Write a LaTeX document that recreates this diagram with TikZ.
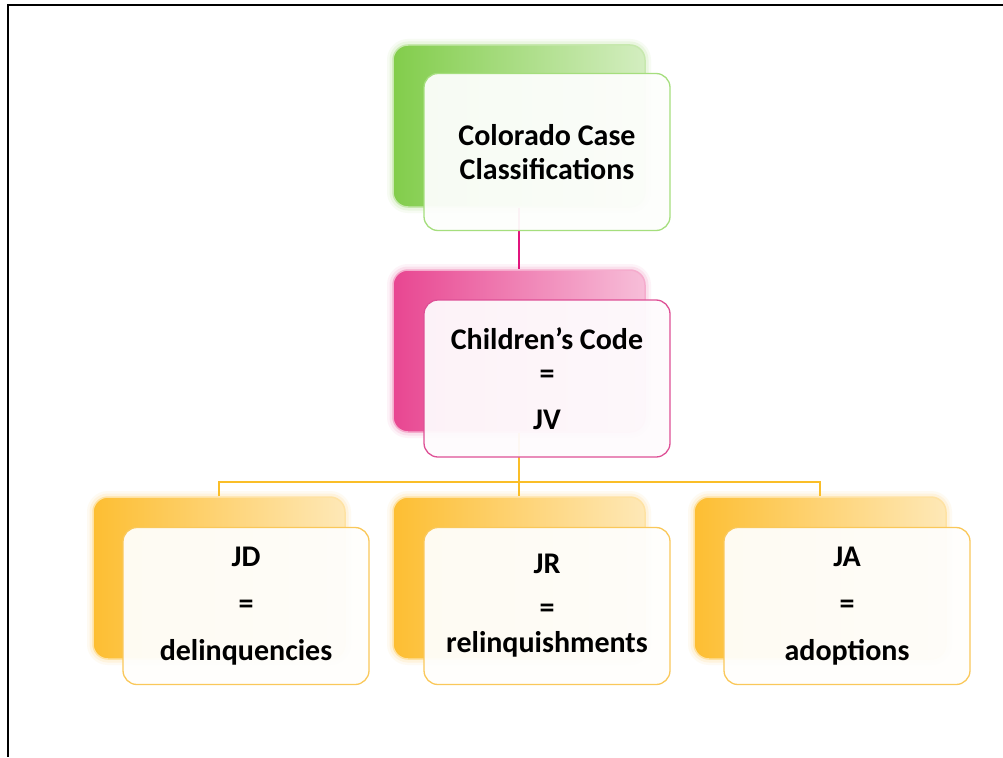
\documentclass[tikz,border=0pt]{standalone}
\usepackage{fontspec}
\setmainfont{Carlito}
\definecolor{gbase}{RGB}{130,205,75}
\definecolor{gedge}{RGB}{165,222,125}
\definecolor{pbase}{RGB}{232,70,145}
\definecolor{pedge}{RGB}{222,80,150}
\definecolor{obase}{RGB}{253,190,50}
\definecolor{oedge}{RGB}{250,200,90}
\definecolor{pline}{RGB}{225,20,125}
\definecolor{oline}{RGB}{250,190,40}
\tikzset{
  backbox/.style={rectangle, rounded corners=15pt, minimum width=252pt, minimum height=162pt,
    left color=#1, right color=#1!35!white, draw=#1!45!white, line width=1.5pt,
    preaction={draw=#1!35!white, line width=12pt, opacity=0.18},
    preaction={draw=#1!40!white, line width=7pt, opacity=0.3}},
  frontbox/.style={rectangle, rounded corners=14pt, minimum width=246pt, minimum height=157pt,
    draw=#1, line width=1.3pt, fill=#1!2!white, fill opacity=0.95, text opacity=1,
    align=center, font=\bfseries\fontsize{30}{34}\selectfont},
  pinkconn/.style={draw=pline, line width=1.8pt},
  orconn/.style={draw=oline, line width=1.8pt},
  frame/.style={draw=black, line width=2.8pt}
}
\begin{document}
\begin{tikzpicture}[x=1pt,y=-1pt]
\useasboundingbox (0,0) rectangle (1003,757);
\fill[white] (0,0) rectangle (1003,757);
\coordinate (tl) at (8,5);
\coordinate (tr) at (1003,5);
\coordinate (bl) at (8,757);
\draw[frame] (tr) -- (tl) -- (bl);

% back boxes (nodes, used by connectors)
\path (519,126) node[backbox=gbase] (b1) {};
\path (519,351) node[backbox=pbase] (b2) {};
\path (219,578) node[backbox=obase] (b3) {};
\path (519,578) node[backbox=obase] (b4) {};
\path (820,578) node[backbox=obase] (b5) {};

% connectors (behind front boxes)
\coordinate (bus) at (519,482);
\draw[pinkconn] (b1.south) -- (b2.north);
\draw[orconn] (b2.south) -- (bus);
\draw[orconn] (b3.north) |- (bus) -| (b5.north);
\draw[orconn] (bus) -- (b4.north);

% front boxes
\node[frontbox=gedge] (f1) at (547,152) {Colorado Case\\Classifications};
\node[frontbox=pedge] (f2) at (547,378.5) {Children’s Code\\=\\[12pt]JV};
\node[frontbox=oedge] (f3) at (246,606) {JD\\[13pt]=\\[13pt]delinquencies};
\node[frontbox=oedge] (f4) at (547,606) {JR\\[10pt]=\\[1pt]relinquishments};
\node[frontbox=oedge] (f5) at (847,606) {JA\\[13pt]=\\[13pt]adoptions};
\end{tikzpicture}
\end{document}
